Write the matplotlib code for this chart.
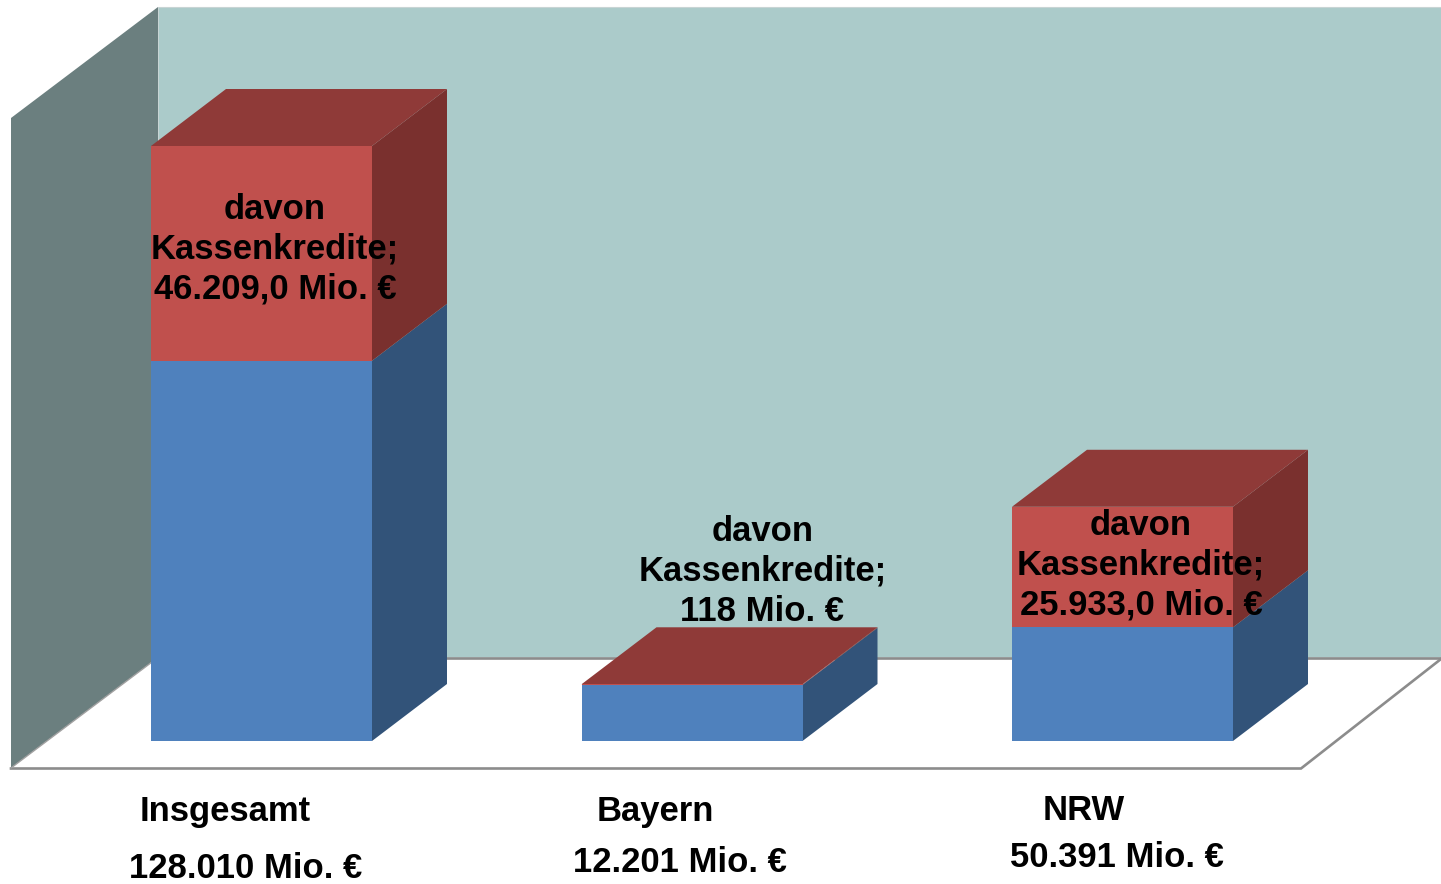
import matplotlib
matplotlib.use("Agg")
import matplotlib.pyplot as plt

# Data (Mio. EUR)
categories = ["Insgesamt", "Bayern", "NRW"]
totals = [128010, 12201, 50391]
kassenkredite = [46209, 118, 25933]
total_labels = ["128.010 Mio. €", "12.201 Mio. €", "50.391 Mio. €"]
kassen_labels = ["davon\nKassenkredite;\n46.209,0 Mio. €",
                 "davon\nKassenkredite;\n118 Mio. €",
                 "davon\nKassenkredite;\n25.933,0 Mio. €"]

W, H = 1441, 884
plt.rcParams["font.family"] = ["Liberation Sans", "DejaVu Sans"]
fig = plt.figure(figsize=(W / 100, H / 100), dpi=100)
ax = fig.add_axes([0, 0, 1, 1])

# Scales: category step 430.5 px, 595 px for the largest total
PX_PER_CAT = 430.5
PX_PER_VAL = 595 / 128010
X0_PX, Y0_PX = 261.5, 741


def X(px):
    return (px - X0_PX) / PX_PER_CAT


def Y(py):
    return (Y0_PX - py) / PX_PER_VAL


ax.set_xlim(X(0), X(W))
ax.set_ylim(Y(H), Y(0))
ax.axis("off")

BACK = "#ABCBCA"
WALL = "#6B7F7F"
GRID = "#8C8C8C"
BLUE, BLUE_SIDE = "#4F81BD", "#325379"
RED, RED_SIDE, RED_TOP = "#C0504D", "#7A302E", "#8F3A38"


def poly(pts, **kw):
    xs = [X(p[0]) for p in pts]
    ys = [Y(p[1]) for p in pts]
    ax.fill(xs, ys, **kw)


# Room
poly([(158, 7), (1441, 7), (1441, 657.5), (158, 657.5)], fc=BACK, ec="#C8D4D4", lw=0.8, zorder=1)
poly([(11, 118), (158, 7), (158, 657.5), (11, 768)], fc=WALL, ec="none", zorder=1)
poly([(11, 768), (158, 657.5), (1441, 657.5), (1301, 768)], fc="white", ec="none", zorder=2)
ax.plot([X(11), X(1301), X(1441)], [Y(768.5), Y(768.5), Y(659)], color=GRID, lw=1.9, zorder=3,
        solid_joinstyle="miter")
ax.plot([X(158), X(1441)], [Y(657.5), Y(657.5)], color=GRID, lw=1.9, zorder=3)
ax.plot([X(11), X(158)], [Y(768), Y(657.5)], color="#A0A0A0", lw=1, zorder=3)

# Bars
BAR_W = 221 / PX_PER_CAT
DX = 75 / PX_PER_CAT
DY = 57 / PX_PER_VAL
for i, (tot, kk) in enumerate(zip(totals, kassenkredite)):
    base = tot - kk
    x0, x1 = i - BAR_W / 2, i + BAR_W / 2
    ax.fill([x1, x1 + DX, x1 + DX, x1], [0, DY, base + DY, base], fc=BLUE_SIDE, ec="none", zorder=4)
    ax.fill([x1, x1 + DX, x1 + DX, x1], [base, base + DY, tot + DY, tot], fc=RED_SIDE, ec="none", zorder=4)
    ax.fill([x0, x1, x1 + DX, x0 + DX], [tot, tot, tot + DY, tot + DY], fc=RED_TOP, ec="none", zorder=4)
ax.bar(range(3), [t - k for t, k in zip(totals, kassenkredite)], width=BAR_W, color=BLUE, zorder=5)
ax.bar(range(3), kassenkredite, bottom=[t - k for t, k in zip(totals, kassenkredite)],
       width=BAR_W, color=RED, zorder=5)

# Text
FS = 24.9
style = dict(fontsize=FS, fontweight="bold", color="black", ha="center", va="center", zorder=6)
kassen_pos = [(275, 249.5), (762.5, 571.5), (1141, 565)]
name_pos = [(225.5, 811.5), (655, 811.5), (1084, 810.5)]
total_pos = [(246, 869), (680, 862.5), (1117, 857.5)]
for s, (px, py) in zip(kassen_labels, kassen_pos):
    ax.text(X(px), Y(py), s, linespacing=1.26, multialignment="center", **style)
for s, (px, py) in zip(categories, name_pos):
    ax.text(X(px), Y(py), s, **style)
for s, (px, py) in zip(total_labels, total_pos):
    ax.text(X(px), Y(py), s, **style)

fig.savefig("out.png", dpi=100, facecolor="white")
